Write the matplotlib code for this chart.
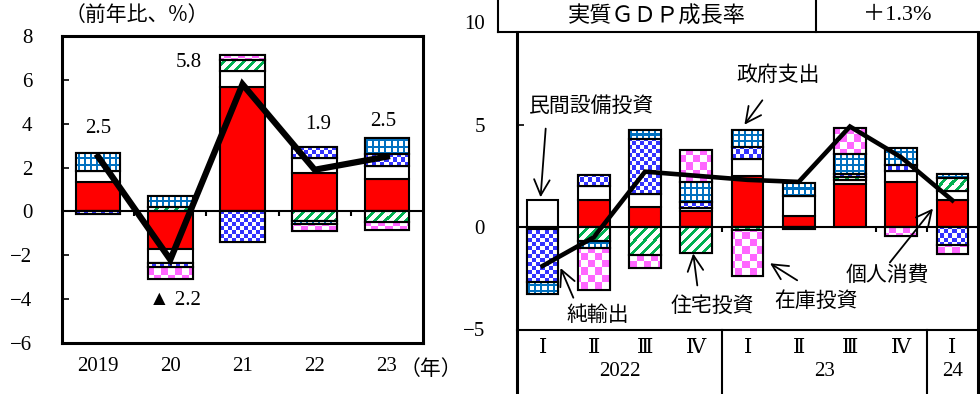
import matplotlib.pyplot as plt
import matplotlib.colors as mcolors
import matplotlib.transforms as mtrans
import numpy as np

# 年次（前年比、%）の寄与度
years = ['2019', '20', '21', '22', '23']
yr_cons = [1.33, -1.70, 5.66, 1.76, 1.48]     # 個人消費
yr_capex = [0.50, -0.67, 0.76, 0.69, 0.58]    # 民間設備投資
yr_house = [0.00, 0.20, 0.50, -0.43, -0.46]   # 住宅投資
yr_netex = [-0.12, -0.15, -1.38, 0.48, 0.57]  # 純輸出
yr_gov = [0.84, 0.50, 0.00, -0.15, 0.73]      # 政府支出
yr_inv = [0.00, -0.57, 0.21, -0.30, -0.38]    # 在庫投資
yr_gdp = [2.5, -2.2, 5.8, 1.9, 2.5]
# 数値ラベルの位置（データ座標）
yr_label_x = [0.0, 1.07, 1.25, 3.05, 3.95]
yr_label_y = [3.8, -4.05, 6.8, 3.95, 4.1]

# 四半期の寄与度
quarters = ['Ⅰ', 'Ⅱ', 'Ⅲ', 'Ⅳ', 'Ⅰ', 'Ⅱ', 'Ⅲ', 'Ⅳ', 'Ⅰ']
q_years = ['2022', '23', '24']
q_cons = [-0.10, 1.30, 1.00, 0.76, 2.49, 0.54, 2.12, 2.20, 1.30]
q_capex = [1.33, 0.68, 0.59, 0.18, 0.83, 0.98, 0.15, 0.52, 0.46]
q_house = [0.00, -0.68, -1.38, -1.25, -0.15, -0.08, 0.18, 0.00, 0.65]
q_netex = [-2.58, 0.58, 2.72, 0.28, 0.59, 0.00, 0.12, 0.29, -0.89]
q_gov = [-0.57, -0.33, 0.44, 0.98, 0.81, 0.65, 0.97, 0.86, 0.16]
q_inv = [0.00, -2.08, -0.62, 1.58, -2.25, 0.00, 1.30, -0.46, -0.41]
q_gdp = [-1.9, -0.5, 2.7, 2.5, 2.3, 2.2, 4.9, 3.4, 1.3]
header_title = '実質ＧＤＰ成長率'
header_value = '＋1.3%'

RED = '#ff0000'
GREEN = '#00b050'
GBLUE = '#0070c0'
CBLUE = '#3333ff'
PINK = '#ff66ff'
styles = [('solid', RED), ('solid', 'white'), ('stripe', GREEN),
          ('check_s', CBLUE), ('grid', GBLUE), ('check_l', PINK)]

SERIF = ['Liberation Serif', 'DejaVu Serif', 'Noto Sans CJK JP']
JP = ['Noto Sans CJK JP', 'DejaVu Sans']
plt.rcParams['font.family'] = SERIF

W, H = 980, 394
fig = plt.figure(figsize=(W / 100, H / 100), dpi=100)


def fx(px):
    return px / W


def fy(py):
    return 1 - py / H


def pattern(kind, color, X, Y):
    if kind == 'grid':
        m = (X % 6 < 2) | (Y % 6 < 2)
    elif kind == 'check_s':
        m = ((X // 4 + Y // 4) % 2) == 0
    elif kind == 'check_l':
        m = ((X // 7 + Y // 7) % 2) == 0
    else:
        m = ((X - Y) % 10) < 4
    img = np.ones(X.shape + (3,))
    img[m] = mcolors.to_rgb(color)
    return img


def stacked(ax, cols, width, lw):
    n = len(cols[0])
    x = np.arange(n)
    pos = np.zeros(n)
    neg = np.zeros(n)
    for vals, (kind, color) in zip(cols, styles):
        v = np.asarray(vals, float)
        base = np.where(v >= 0, pos, neg)
        m = v != 0
        face = color if kind == 'solid' else 'white'
        bars = ax.bar(x[m], v[m], width, bottom=base[m], color=face,
                      edgecolor='black', linewidth=lw, zorder=2)
        if kind != 'solid':
            for b in bars:
                x0 = b.get_x()
                x1 = x0 + b.get_width()
                ya, yb = sorted([b.get_y(), b.get_y() + b.get_height()])
                (p0x, p0y), (p1x, p1y) = ax.transData.transform([(x0, ya), (x1, yb)])
                xs = np.arange(int(round(p0x)), int(round(p1x)))
                ys = np.arange(int(round(p0y)), int(round(p1y)))
                if len(xs) == 0 or len(ys) == 0:
                    continue
                X, Y = np.meshgrid(xs, ys)
                ax.imshow(pattern(kind, color, X, Y), extent=(x0, x1, ya, yb),
                          origin='lower', interpolation='nearest',
                          aspect='auto', zorder=2.1)
            ax.bar(x[m], v[m], width, bottom=base[m], fill=False,
                   edgecolor='black', linewidth=lw, zorder=2.2)
        pos += np.where(v > 0, v, 0)
        neg += np.where(v < 0, v, 0)


# ---------------- 左：年次 ----------------
axL = fig.add_axes([fx(62), fy(343), (423 - 62) / W, (343 - 36) / H])
axL.set_xlim(-0.5, 4.5)
axL.set_ylim(-6, 8)
stacked(axL, [yr_cons, yr_capex, yr_house, yr_netex, yr_gov, yr_inv], 0.62, 1.5)
axL.axhline(0, color='black', lw=1.5, zorder=3)
axL.vlines(np.arange(0.5, 4, 1), -0.23, 0, color='black', lw=1.5, zorder=3)
axL.plot(range(len(years)), yr_gdp, color='black', lw=4.5, zorder=4,
         solid_joinstyle='miter')
for v, lx, ly in zip(yr_gdp, yr_label_x, yr_label_y):
    s = f'▲ {abs(v):.1f}' if v < 0 else f'{v:.1f}'
    axL.text(lx, ly, s, ha='center', va='center', fontsize=15, zorder=5)
axL.set_yticks(range(-6, 9, 2))
axL.tick_params(axis='y', direction='in', length=5, width=1.2, pad=21.5, labelsize=15)
axL.set_xticks(range(len(years)), years)
axL.tick_params(axis='x', length=0, pad=10, labelsize=15)
for s in axL.spines.values():
    s.set_linewidth(2.2)
fig.text(fx(65), fy(15), '（前年比、%）', ha='left', va='center', fontsize=15, family=JP)
fig.text(fx(400), fy(369), '（年）', ha='left', va='center', fontsize=15, family=JP)

# ---------------- 右：四半期 ----------------
axR = fig.add_axes([fx(517), fy(329.5), (978 - 517) / W, (329.5 - 22) / H])
axR.set_xlim(-0.5, 8.5)
axR.set_ylim(-5, 10)
stacked(axR, [q_cons, q_capex, q_house, q_netex, q_gov, q_inv], 0.62, 1.5)
axR.axhline(0, color='black', lw=1.5, zorder=3)
axR.vlines([3.5, 6.5, 7.5], -0.24, 0, color='black', lw=1.5, zorder=3)
axR.plot(range(len(quarters)), q_gdp, color='black', lw=3.3, zorder=4,
         solid_joinstyle='miter')
for s in axR.spines.values():
    s.set_visible(False)
axR.set_yticks([-5, 0, 5, 10])
axR.tick_params(axis='y', direction='in', length=5, width=1.2, pad=23, labelsize=15)
axR.yaxis.get_major_ticks()[-1].tick1line.set_visible(False)
axR.set_xticks(range(len(quarters)), quarters)
axR.tick_params(axis='x', length=0, pad=6.5, labelsize=15)

blend = mtrans.blended_transform_factory(axR.transData, axR.transAxes)
bot = -(394 - 329.5) / 307.5
for xb in [3.5, 7.5]:
    axR.plot([xb, xb], [0, bot], transform=blend, color='black', lw=1.5, clip_on=False)
for xc, lab in zip([1.5, 5.5, 8.0], q_years):
    axR.text(xc, -(371 - 329.5) / 307.5, lab, transform=blend, ha='center',
             va='center', fontsize=15)

# 表の枠線
frame = [((517, 32), (517, 394), 2.2), ((978, 32), (978, 394), 2.2),
         ((498, 0), (498, 32), 1.5), ((498, 32), (978, 32), 1.5),
         ((816, 0), (816, 32), 1.5), ((517, 329.5), (978, 329.5), 1.5)]
for (xa, ya), (xb, yb), w in frame:
    fig.add_artist(plt.Line2D([fx(xa), fx(xb)], [fy(ya), fy(yb)], color='black', lw=w))
fig.text(fx(657), fy(16), header_title, ha='center', va='center', fontsize=16, family=JP)
fig.text(fx(897), fy(16), header_value, ha='center', va='center', fontsize=16)

# 注記
notes = [('民間設備投資', (0.96, 5.9), (0.06, 4.8), (-0.04, 1.45)),
         ('純輸出', (1.07, -4.3), (0.6, -3.45), (0.35, -2.0)),
         ('住宅投資', (3.31, -3.83), (3.02, -2.85), (2.94, -1.29)),
         ('在庫投資', (5.34, -3.6), (4.97, -2.6), (4.44, -1.77)),
         ('個人消費', (6.74, -2.35), (6.78, -1.73), (7.62, 0.9)),
         ('政府支出', (4.6, 7.4), (4.29, 6.18), (3.94, 4.99))]
for txt, tp, start, end in notes:
    axR.text(tp[0], tp[1], txt, ha='center', va='center', fontsize=15, family=JP, zorder=6)
    axR.annotate('', xy=end, xytext=start,
                 arrowprops=dict(arrowstyle='->', color='black', lw=1.3,
                                 mutation_scale=28, shrinkA=0, shrinkB=0),
                 zorder=6)

fig.savefig('out.png', dpi=100)
